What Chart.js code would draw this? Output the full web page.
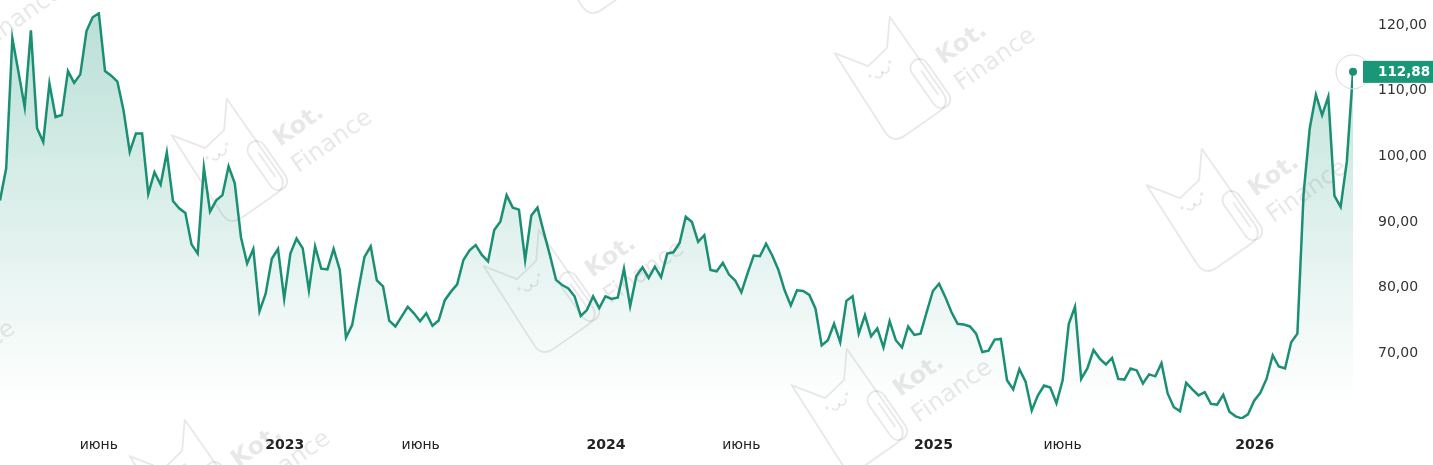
<!DOCTYPE html>
<html lang="ru">
<head>
<meta charset="utf-8">
<title>Котировки</title>
<script src="https://cdn.jsdelivr.net/npm/chart.js@4.4.1/dist/chart.umd.min.js"></script>
<style>
  html, body { margin: 0; padding: 0; background: #fff; }
  #wrap { width: 1433px; height: 465px; }
</style>
</head>
<body>
<div id="wrap"><canvas id="chart" width="1433" height="465"></canvas></div>
<script>
// weekly closes
const prices = [
  93.3, 98.2, 118.0, 112.8, 107.5, 119.2, 104.3, 102.2, 111.1, 106.0,
  106.3, 113.0, 111.2, 112.5, 119.1, 121.2, 121.8, 113.0, 112.3, 111.4,
  107.0, 100.7, 103.5, 103.5, 94.3, 97.6, 95.7, 100.6, 93.2, 92.1,
  91.4, 86.6, 85.2, 98.3, 91.6, 93.3, 94.1, 98.5, 95.9, 87.7,
  83.7, 85.9, 76.4, 79.1, 84.4, 85.9, 78.3, 85.2, 87.5, 86.0,
  79.6, 86.3, 82.9, 82.8, 85.9, 82.7, 72.4, 74.3, 79.6, 84.7,
  86.3, 81.1, 80.2, 75.0, 74.1, 75.6, 77.1, 76.1, 74.9, 76.1,
  74.2, 75.0, 78.1, 79.4, 80.5, 84.2, 85.7, 86.5, 85.0, 84.0,
  88.8, 90.1, 94.1, 92.2, 91.9, 84.2, 91.0, 92.2, 88.5, 85.0,
  81.2, 80.4, 79.9, 78.7, 75.7, 76.6, 78.7, 76.9, 78.7, 78.3,
  78.5, 82.9, 77.2, 81.8, 83.1, 81.5, 83.2, 81.6, 85.2, 85.4,
  86.8, 90.8, 90.0, 87.0, 88.0, 82.7, 82.5, 83.8, 82.0, 81.1,
  79.3, 82.2, 84.9, 84.8, 86.7, 84.9, 82.7, 79.6, 77.3, 79.6,
  79.5, 78.9, 76.8, 71.2, 72.0, 74.5, 71.7, 78.0, 78.7, 73.0,
  75.8, 72.6, 73.8, 70.9, 74.9, 72.0, 70.9, 74.1, 72.8, 73.0,
  76.3, 79.5, 80.6, 78.6, 76.3, 74.5, 74.4, 74.1, 73.0, 70.2,
  70.4, 72.1, 72.2, 65.9, 64.5, 67.6, 65.7, 61.3, 63.6, 65.1,
  64.8, 62.4, 65.9, 74.5, 77.1, 66.1, 67.7, 70.5, 69.2, 68.3,
  69.3, 66.1, 66.0, 67.7, 67.4, 65.4, 66.8, 66.5, 68.5, 63.9,
  61.8, 61.2, 65.5, 64.5, 63.6, 64.1, 62.3, 62.2, 63.7, 61.1,
  60.4, 60.1, 60.7, 62.8, 64.0, 66.1, 69.7, 68.0, 67.7, 71.7,
  73.0, 94.3, 104.3, 109.4, 106.3, 109.1, 94.0, 92.3, 99.2, 112.88
];
const weeks = prices.map((_, i) => i);

// x ticks sit at week positions (first week = 0)
const xTickPos = [16.0, 46.1, 68.1, 98.1, 120.0, 151.1, 172.0, 203.1];
const xTickLabels = ['июнь', '2023', 'июнь', '2024', 'июнь', '2025', 'июнь', '2026'];
const yTickValues = [70, 80, 90, 100, 110, 120];

const lineColor = '#1a8f74';
const boxColor = '#1a9679';
const wmColor = 'rgba(140,140,140,0.2)';
const fontFamily = 'DejaVu Sans';

// faint "Kot. Finance" marks behind the data
const watermarks = [
  [280, 147], [943, 65], [1255, 197], [592, 278], [900, 397],
  [238, 468], [-30, 22], [640, -61], [-77, 358]
];

function fmt(v) {
  return v.toFixed(2).replace('.', ',');
}

function drawWatermark(ctx, x, y) {
  ctx.save();
  ctx.translate(x, y);
  ctx.rotate(-35 * Math.PI / 180);
  ctx.strokeStyle = wmColor;
  ctx.fillStyle = wmColor;
  ctx.lineWidth = 1.8;
  ctx.lineJoin = 'round';

  ctx.beginPath();
  ctx.moveTo(-82, -72);
  ctx.lineTo(-62, -42);
  ctx.lineTo(-36, -46);
  ctx.lineTo(-16, -70);
  ctx.lineTo(-16, 22);
  ctx.quadraticCurveTo(-16, 36, -30, 36);
  ctx.lineTo(-72, 36);
  ctx.quadraticCurveTo(-86, 36, -86, 22);
  ctx.closePath();
  ctx.stroke();

  // paperclip
  ctx.beginPath();
  if (ctx.roundRect) ctx.roundRect(-30, -20, 18, 56, 9);
  else ctx.rect(-30, -20, 18, 56);
  ctx.stroke();
  ctx.beginPath();
  ctx.moveTo(-21, -8);
  ctx.lineTo(-21, 22);
  ctx.stroke();

  // face
  ctx.beginPath();
  ctx.arc(-58, -30, 4, 0, Math.PI);
  ctx.stroke();
  ctx.beginPath();
  ctx.arc(-50, -30, 4, 0, Math.PI);
  ctx.stroke();
  ctx.beginPath();
  ctx.arc(-66, -33, 1.6, 0, 2 * Math.PI);
  ctx.arc(-42, -33, 1.6, 0, 2 * Math.PI);
  ctx.fill();

  ctx.font = 'bold 24px ' + fontFamily;
  ctx.fillText('Kot.', 0, 0);
  ctx.font = '24px ' + fontFamily;
  ctx.fillText('Finance', 0, 32);
  ctx.restore();
}

const watermarkPlugin = {
  id: 'watermark',
  beforeDatasetsDraw(chart) {
    for (const [x, y] of watermarks) drawWatermark(chart.ctx, x, y);
  }
};

const lastPointPlugin = {
  id: 'lastPoint',
  afterDatasetsDraw(chart) {
    const meta = chart.getDatasetMeta(0);
    const pt = meta.data[meta.data.length - 1];
    const ctx = chart.ctx;
    ctx.save();
    ctx.beginPath();
    ctx.arc(pt.x, pt.y, 17, 0, 2 * Math.PI);
    ctx.strokeStyle = '#d9d9d9';
    ctx.lineWidth = 1;
    ctx.stroke();

    ctx.beginPath();
    ctx.arc(pt.x, pt.y, 4, 0, 2 * Math.PI);
    ctx.fillStyle = lineColor;
    ctx.fill();

    const left = chart.chartArea.right + 10;
    ctx.fillStyle = boxColor;
    ctx.fillRect(left, pt.y - 11, chart.width - left, 22);
    ctx.fillStyle = '#fff';
    ctx.font = 'bold 13.5px ' + fontFamily;
    ctx.textBaseline = 'middle';
    ctx.textAlign = 'left';
    ctx.fillText(fmt(prices[prices.length - 1]), chart.chartArea.right + 25, pt.y + 1);
    ctx.restore();
  }
};

new Chart(document.getElementById('chart'), {
  type: 'line',
  data: {
    labels: weeks,
    datasets: [{
      data: prices,
      borderColor: lineColor,
      borderWidth: 2.5,
      pointRadius: 0,
      tension: 0,
      fill: 'start',
      backgroundColor: (c) => {
        const { ctx, chartArea } = c.chart;
        if (!chartArea) return 'rgba(26,150,121,0.15)';
        const g = ctx.createLinearGradient(0, chartArea.top, 0, chartArea.bottom - 15);
        g.addColorStop(0, 'rgba(26,150,121,0.30)');
        g.addColorStop(1, 'rgba(26,150,121,0)');
        return g;
      }
    }]
  },
  options: {
    responsive: false,
    animation: false,
    layout: { padding: { top: 12, left: 0, right: 0, bottom: 0 } },
    plugins: {
      legend: { display: false },
      tooltip: { enabled: false }
    },
    scales: {
      x: {
        type: 'linear',
        min: 0,
        max: prices.length - 1,
        grid: { display: false, drawTicks: false },
        border: { display: false },
        afterBuildTicks: (s) => { s.ticks = xTickPos.map(v => ({ value: v })); },
        afterFit: (s) => { s.height = 46; s.paddingLeft = 0; s.paddingRight = 0; },
        ticks: {
          autoSkip: false,
          maxRotation: 0,
          padding: 18,
          color: '#222',
          font: (c) => ({ family: fontFamily, size: 14, weight: c.index % 2 ? 'bold' : 'normal' }),
          callback: (v, i) => xTickLabels[i]
        }
      },
      y: {
        type: 'linear',
        position: 'right',
        min: 60,
        max: 122,
        grid: { display: false, drawTicks: false },
        border: { display: false },
        afterBuildTicks: (s) => { s.ticks = yTickValues.map(v => ({ value: v })); },
        afterFit: (s) => { s.width = 80; s.paddingTop = 0; s.paddingBottom = 0; },
        ticks: {
          padding: 25,
          color: '#333',
          font: { family: fontFamily, size: 14 },
          callback: (v) => fmt(v)
        }
      }
    }
  },
  plugins: [watermarkPlugin, lastPointPlugin]
});
</script>
</body>
</html>
